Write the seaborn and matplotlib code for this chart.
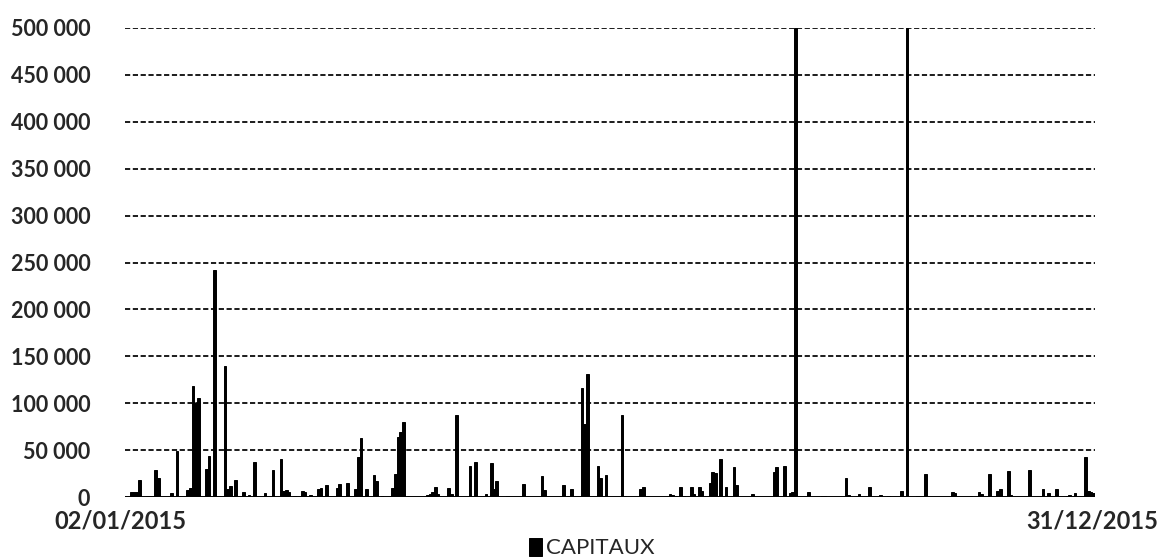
import numpy as np
import pandas as pd
import matplotlib
matplotlib.use("Agg")
import matplotlib.pyplot as plt
import seaborn as sns

# ---- data -------------------------------------------------------------
start_label = "02/01/2015"
end_label = "31/12/2015"
series_name = "CAPITAUX"
dates = pd.date_range("2015-01-02", "2015-12-31", freq="D")

# day offsets from 02/01/2015 and the amount of that day
spike_days = [2, 3, 4, 5, 8, 11, 12, 17, 19, 23, 24, 25, 26, 27, 30, 31, 33,
              37, 38, 39, 41, 44, 46, 48, 52, 55, 58, 59,
              60, 61, 63, 66, 67, 69, 72, 73, 75, 79, 80, 83, 86, 87, 88, 90,
              93, 94, 96, 100, 101, 102, 103, 104, 113, 114, 115, 116, 117,
              121, 122,
              124, 129, 131, 135, 137, 138, 139, 143, 149, 156, 157, 164, 166,
              167, 171, 172, 173, 177, 178, 180,
              186, 187, 193, 194, 204, 205, 206, 208, 209, 212, 213, 215, 216,
              219, 220, 221, 223, 225, 228, 229, 235, 243, 244,
              247, 249, 250, 251, 256, 261, 262, 270, 271, 275, 279, 283, 286,
              291, 293, 297, 300,
              310, 311, 317, 320, 321, 324, 327, 328, 331, 332, 339, 344, 346,
              349, 353, 354, 356, 360, 361, 362, 363]
spike_values = [5000, 5000, 5000, 18000, 1000, 28500, 20000, 4600, 49000,
                7000, 10000, 118000, 100000, 106000, 30000, 44000, 242000,
                140000, 8000, 12000, 18500, 5000, 2000, 37000, 4600, 28500,
                40000, 6400,
                7000, 5000, 1500, 6400, 5000, 2000, 8000, 10000, 13000, 10000,
                14000, 15000, 8000, 43000, 63000, 9000, 23000, 17000, 1500,
                10000, 25000, 63500, 69000, 80000, 2000, 3000, 5000, 10700,
                3000, 10000, 3000,
                87500, 33000, 37500, 3000, 36000, 9000, 17000, 1000, 14000,
                22500, 7000, 13000, 1500, 8000, 116000, 78000, 131000, 33000,
                20700, 23000,
                87500, 1000, 8000, 10700, 3000, 2500, 1000, 10700, 1500, 10700,
                3000, 10700, 6400, 15000, 27000, 26000, 41000, 10700, 32000,
                12500, 3500, 27000, 32000,
                33000, 4600, 5000, 500000, 5000, 1000, 1500, 20000, 2000, 3500,
                11000, 2000, 800, 6000, 500000, 1000, 24000,
                5500, 4500, 1500, 5000, 3500, 25000, 6000, 9000, 28000, 2000,
                29000, 9000, 4000, 9000, 1500, 2000, 4000, 42500, 6000, 5000,
                4000]

yticks = [0, 50000, 100000, 150000, 200000, 250000, 300000, 350000, 400000,
          450000, 500000]
ytick_labels = ["0", "50 000", "100 000", "150 000", "200 000", "250 000",
                "300 000", "350 000", "400 000", "450 000", "500 000"]

values = np.zeros(len(dates))
values[spike_days] = spike_values
df = pd.DataFrame({"date": dates.strftime("%d/%m/%Y"), "value": values,
                   "serie": series_name})

# ---- figure -----------------------------------------------------------
sns.set_theme(style="white")
plt.rcParams["font.family"] = ["Lato", "DejaVu Sans"]

fig = plt.figure(figsize=(11.58, 5.6), dpi=100)
ax = fig.add_axes([125 / 1158, 63 / 560, 970 / 1158, 469 / 560])

sns.barplot(data=df, x="date", y="value", hue="serie", palette=["black"],
            width=1.0, linewidth=0.7, edgecolor="black", saturation=1,
            ax=ax, legend=True, zorder=3)

ax.set_xlim(-0.5, len(dates) - 0.5)
ax.set_ylim(0, 500000)
ax.set_yticks(yticks)
ax.set_yticklabels(ytick_labels, fontsize=15.5, fontweight="bold")
ax.set_xticks([])
ax.set_xlabel("")
ax.set_ylabel("")
ax.tick_params(axis="y", length=0, pad=25)
for s in ax.spines.values():
    s.set_visible(False)

for yv in yticks[1:]:
    ax.axhline(yv, color="black", lw=1.25, ls=(0, (3, 1.5)), zorder=1)
ax.axhline(0, color="black", lw=1.4, zorder=4)

fig.text(120 / 1158, 1 - 521 / 560, start_label, fontsize=17,
         fontweight="bold", ha="center", va="center")
fig.text(1092 / 1158, 1 - 521 / 560, end_label, fontsize=17,
         fontweight="bold", ha="center", va="center")

leg = ax.legend(loc="center", bbox_to_anchor=(592 / 1158, 1 - 548 / 560),
                bbox_transform=fig.transFigure, frameon=False, fontsize=16,
                handlelength=0.55, handleheight=0.9, handletextpad=0.2,
                borderpad=0)

fig.savefig("out.png", dpi=100)
